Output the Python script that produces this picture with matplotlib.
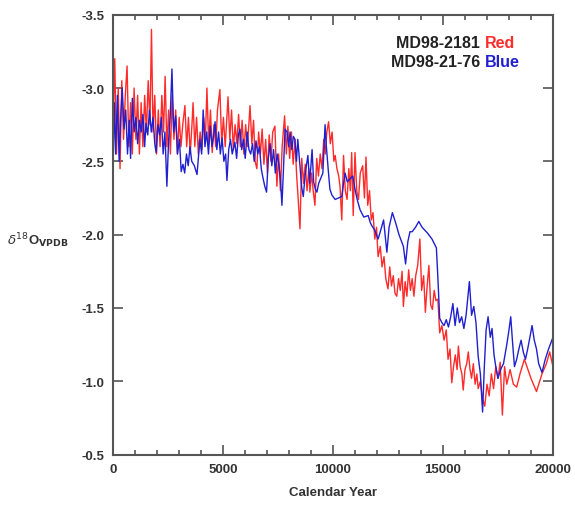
import matplotlib
matplotlib.use("Agg")
import matplotlib.pyplot as plt
from matplotlib.ticker import MultipleLocator

plt.rcParams['font.family'] = ['Liberation Sans', 'DejaVu Sans']

# MD98-2181 (red) - calendar year and d18O
red_year = [0, 80, 160, 240, 320, 400, 480, 560, 640, 720, 800, 880, 960, 1040, 1120,
            1200, 1280, 1360, 1440, 1520, 1600, 1680, 1750, 1820, 1900, 1980, 2060, 2140,
            2220, 2300, 2370, 2450, 2530, 2610, 2690, 2770, 2850, 2930, 3010, 3090, 3170,
            3270, 3350, 3430, 3510, 3590, 3640, 3720, 3800, 3880, 3960, 4040, 4120, 4200,
            4270, 4350, 4430, 4510, 4590, 4670, 4750, 4860, 4940, 5020, 5100, 5230, 5310,
            5390, 5470, 5550, 5630, 5710, 5790, 5870, 5950, 6030, 6110, 6230, 6310, 6390,
            6460, 6540, 6620, 6700, 6780, 6860, 6940, 7020, 7100, 7180, 7260, 7360, 7450,
            7530, 7610, 7690, 7800, 7880, 7950, 8030, 8110, 8190, 8270, 8350, 8420, 8500,
            8580, 8660, 8740, 8820, 8900, 8950, 9030, 9100, 9180, 9260, 9340, 9420, 9500,
            9580, 9650, 9720, 9800, 9880, 9960, 10040, 10100, 10180, 10260, 10320, 10400,
            10480, 10560, 10640, 10720, 10790, 10850, 10920, 11000, 11080, 11160, 11240,
            11350, 11430, 11500, 11580, 11660, 11740, 11820, 11900, 11980, 12050, 12150,
            12230, 12320, 12400, 12500, 12580, 12660, 12740, 12820, 12900, 12980, 13060,
            13140, 13200, 13280, 13360, 13440, 13520, 13600, 13680, 13760, 13850, 13950,
            14030, 14120, 14200, 14280, 14360, 14440, 14520, 14600, 14680, 14770, 14850,
            14950, 15050, 15150, 15230, 15320, 15400, 15480, 15560, 15640, 15700, 15780,
            15860, 15920, 16000, 16080, 16150, 16230, 16300, 16380, 16460, 16540, 16600,
            16700, 16800, 16900, 17000, 17100, 17200, 17300, 17400, 17500, 17600, 17700,
            17800, 17900, 18050, 18200, 18350, 18500, 18700, 19000, 19250, 19500, 19700,
            19850, 20000]
red_d18o = [-2.70, -3.20, -2.55, -3.00, -2.45, -3.05, -2.65, -2.95, -3.15, -2.60, -2.90,
            -2.55, -3.00, -2.65, -2.95, -2.55, -2.90, -2.60, -2.95, -2.70, -3.05, -2.75,
            -3.40, -2.70, -2.95, -2.55, -2.85, -2.60, -2.95, -2.70, -3.08, -2.60, -2.85,
            -2.55, -2.95, -2.65, -2.85, -2.55, -2.80, -2.60, -2.75, -2.88, -2.60, -2.80,
            -2.55, -2.75, -2.90, -2.60, -2.80, -2.55, -2.70, -2.58, -2.80, -2.65, -3.00,
            -2.62, -2.85, -2.56, -2.75, -2.60, -2.85, -2.99, -2.62, -2.80, -2.60, -2.94,
            -2.65, -2.85, -2.58, -2.75, -2.62, -2.82, -2.60, -2.78, -2.55, -2.75, -2.60,
            -2.88, -2.62, -2.78, -2.50, -2.45, -2.70, -2.55, -2.72, -2.48, -2.65, -2.42,
            -2.68, -2.50, -2.70, -2.74, -2.33, -2.55, -2.30, -2.60, -2.81, -2.55, -2.74,
            -2.52, -2.70, -2.48, -2.65, -2.40, -2.24, -2.04, -2.52, -2.35, -2.48, -2.30,
            -2.45, -2.29, -2.42, -2.30, -2.20, -2.52, -2.40, -2.55, -2.45, -2.65, -2.55,
            -2.70, -2.77, -2.62, -2.70, -2.50, -2.54, -2.45, -2.40, -2.33, -2.10, -2.54,
            -2.30, -2.24, -2.45, -2.30, -2.56, -2.13, -2.56, -2.30, -2.24, -2.42, -2.47,
            -2.25, -2.53, -2.20, -2.30, -2.10, -2.15, -1.97, -2.05, -1.85, -1.92, -1.78,
            -1.85, -1.70, -1.63, -1.78, -1.65, -1.72, -1.60, -1.58, -1.70, -1.62, -1.75,
            -1.51, -1.68, -1.58, -1.76, -1.62, -1.70, -1.58, -1.72, -1.79, -1.97, -1.62,
            -1.72, -1.47, -1.65, -1.79, -1.52, -1.49, -1.62, -1.55, -1.56, -1.33, -1.38,
            -1.28, -1.35, -1.15, -1.22, -0.99, -1.10, -1.18, -1.08, -1.24, -1.10, -1.05,
            -0.94, -1.08, -1.12, -1.20, -1.08, -1.02, -1.12, -0.98, -1.05, -0.95, -1.00,
            -0.88, -0.83, -0.98, -0.90, -1.05, -0.95, -1.10, -1.02, -1.13, -0.77, -1.10,
            -0.98, -1.08, -0.98, -0.96, -1.05, -1.15, -1.02, -0.93, -1.05, -1.12, -1.20,
            -1.10]

# MD98-21-76 (blue)
blue_year = [0, 60, 120, 200, 280, 350, 420, 500, 580, 660, 740, 800, 880, 960, 1040,
             1120, 1200, 1280, 1360, 1440, 1500, 1580, 1660, 1740, 1820, 1900, 1960, 2040,
             2120, 2200, 2280, 2360, 2450, 2530, 2600, 2680, 2760, 2850, 2930, 3020, 3100,
             3180, 3260, 3340, 3420, 3500, 3580, 3700, 3820, 3950, 4030, 4100, 4180, 4260,
             4340, 4420, 4500, 4580, 4640, 4720, 4800, 4880, 4960, 5040, 5120, 5180, 5260,
             5340, 5420, 5540, 5620, 5700, 5770, 5850, 5930, 6010, 6100, 6180, 6260, 6340,
             6420, 6500, 6580, 6660, 6740, 6800, 6900, 6980, 7060, 7140, 7220, 7300, 7380,
             7460, 7540, 7610, 7680, 7750, 7820, 7910, 7990, 8050, 8130, 8200, 8270, 8340,
             8400, 8500, 8580, 8650, 8730, 8800, 8860, 8940, 9050, 9120, 9200, 9270, 9350,
             9430, 9540, 9640, 9700, 9780, 9860, 9950, 10100, 10250, 10400, 10480, 10550,
             10650, 10770, 10900, 11000, 11100, 11230, 11400, 11600, 11700, 11770, 11900,
             12050, 12150, 12300, 12450, 12550, 12700, 12850, 13000, 13200, 13300, 13400,
             13500, 13600, 13750, 13900, 14050, 14300, 14500, 14700, 14770, 14850, 14950,
             15050, 15150, 15250, 15350, 15450, 15550, 15650, 15750, 15850, 15950, 16050,
             16200, 16300, 16400, 16500, 16600, 16700, 16800, 16880, 16960, 17050, 17150,
             17230, 17320, 17400, 17500, 17620, 17750, 17900, 18000, 18080, 18170, 18250,
             18350, 18450, 18550, 18650, 18750, 18850, 18950, 19050, 19150, 19250, 19350,
             19500, 19650, 19800, 20000]
blue_d18o = [-2.45, -2.90, -2.55, -2.95, -2.50, -2.80, -3.00, -2.72, -2.85, -2.55, -2.78,
             -2.52, -2.93, -2.70, -2.80, -2.62, -2.78, -2.70, -2.82, -2.60, -2.76, -2.68,
             -2.85, -2.70, -2.80, -2.62, -2.56, -2.75, -2.68, -2.80, -2.55, -2.70, -2.33,
             -2.65, -2.80, -3.13, -2.70, -2.81, -2.55, -2.65, -2.43, -2.48, -2.42, -2.55,
             -2.47, -2.60, -2.50, -2.47, -2.41, -2.65, -2.55, -2.85, -2.60, -2.70, -2.55,
             -2.74, -2.60, -2.68, -2.77, -2.58, -2.70, -2.55, -2.66, -2.50, -2.55, -2.37,
             -2.58, -2.65, -2.55, -2.63, -2.52, -2.68, -2.72, -2.58, -2.65, -2.52, -2.70,
             -2.58, -2.55, -2.62, -2.50, -2.64, -2.55, -2.60, -2.45, -2.40, -2.33, -2.29,
             -2.52, -2.62, -2.47, -2.58, -2.42, -2.55, -2.48, -2.38, -2.20, -2.45, -2.72,
             -2.70, -2.60, -2.70, -2.58, -2.67, -2.65, -2.50, -2.65, -2.47, -2.32, -2.26,
             -2.40, -2.48, -2.54, -2.35, -2.58, -2.36, -2.31, -2.29, -2.35, -2.38, -2.42,
             -2.75, -2.60, -2.45, -2.31, -2.27, -2.24, -2.25, -2.26, -2.35, -2.42, -2.36,
             -2.38, -2.40, -2.31, -2.24, -2.17, -2.12, -2.13, -2.08, -2.06, -2.03, -1.97,
             -2.02, -2.10, -1.88, -2.05, -2.15, -2.08, -2.00, -1.92, -1.80, -1.95, -2.02,
             -2.02, -2.05, -2.09, -2.05, -2.01, -1.97, -1.91, -1.70, -1.43, -1.40, -1.38,
             -1.42, -1.37, -1.44, -1.53, -1.38, -1.50, -1.40, -1.44, -1.36, -1.45, -1.68,
             -1.45, -1.51, -1.40, -1.17, -1.05, -0.79, -1.10, -1.35, -1.44, -1.30, -1.36,
             -1.18, -1.10, -1.02, -1.08, -1.12, -1.25, -1.35, -1.44, -1.25, -1.10, -1.15,
             -1.22, -1.28, -1.20, -1.15, -1.22, -1.30, -1.38, -1.28, -1.22, -1.12, -1.06,
             -1.15, -1.22, -1.30]

fig = plt.figure(figsize=(5.75, 5.10), dpi=100)
ax = fig.add_axes([0.1965, 0.1067, 0.7652, 0.8625])

ax.plot(red_year, red_d18o, color='#ff2a2a', lw=1.0)
ax.plot(blue_year, blue_d18o, color='#2020d0', lw=1.0)

ax.set_xlim(0, 20000)
ax.set_ylim(-0.5, -3.5)
ax.xaxis.set_major_locator(MultipleLocator(5000))
ax.xaxis.set_minor_locator(MultipleLocator(1000))
ax.yaxis.set_major_locator(MultipleLocator(0.5))
ax.yaxis.set_major_formatter(matplotlib.ticker.FormatStrFormatter('%.1f'))

for s in ax.spines.values():
    s.set_color('#555555')
    s.set_linewidth(1.5)
ax.tick_params(which='both', direction='in', top=True, right=True, colors='#555555',
               labelcolor='#333333', labelsize=9.5, width=1.2)
ax.tick_params(which='major', length=7, pad=6)
ax.tick_params(which='minor', length=3.5)
for lab in ax.get_xticklabels() + ax.get_yticklabels():
    lab.set_fontweight('bold')

ax.set_xlabel('Calendar Year', fontsize=9.5, color='#333333', labelpad=8,
              fontweight='bold')
fig.text(0.065, 0.528, r'$\delta^{18}$O$_{\mathbf{VPDB}}$', fontsize=9.5,
         color='#333333', ha='center', va='center', fontweight='bold')

# legend text, black name + coloured word
ax.text(0.845, 0.937, 'MD98-2181 ', transform=ax.transAxes, ha='right', va='center',
        fontsize=11.5, fontweight='bold', color='#222222')
ax.text(0.845, 0.937, 'Red', transform=ax.transAxes, ha='left', va='center',
        fontsize=11.5, fontweight='bold', color='#ff2a2a')
ax.text(0.845, 0.894, 'MD98-21-76 ', transform=ax.transAxes, ha='right', va='center',
        fontsize=11.5, fontweight='bold', color='#222222')
ax.text(0.845, 0.894, 'Blue', transform=ax.transAxes, ha='left', va='center',
        fontsize=11.5, fontweight='bold', color='#2020d0')

fig.savefig('out.png', dpi=100)
